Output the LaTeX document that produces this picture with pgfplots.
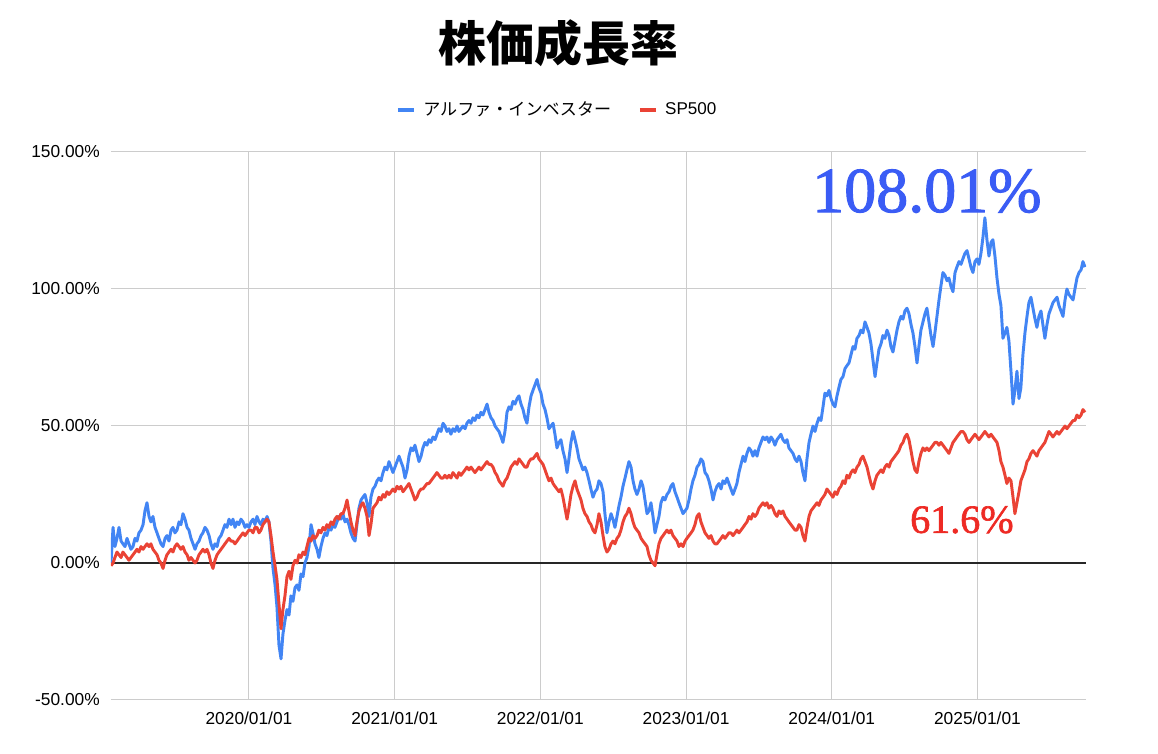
\documentclass[border=0pt]{standalone}
\usepackage{fontspec}
\setmainfont{Liberation Sans}
\newfontfamily\cjk{Noto Sans CJK JP}
\newfontfamily\anno[FakeBold=1.6]{Liberation Serif}
\usepackage{pgfplots}
\usepackage{pgfplotstable}
\pgfplotsset{compat=1.18}
\definecolor{cblue}{HTML}{4285F4}
\definecolor{cred}{HTML}{EA4335}
\definecolor{annblue}{HTML}{3A5CF5}
\definecolor{annred}{HTML}{EE2A24}
\definecolor{gridgray}{HTML}{CCCCCC}

\pgfplotstableread{
year alpha sp
2019.053 0 -1
2019.067 13 0
2019.080 6 2
2019.094 9 4
2019.108 13 3
2019.122 8 2
2019.135 7 4
2019.149 6 3
2019.163 9 2
2019.176 7 1
2019.190 5 2
2019.204 6 3
2019.218 9 4
2019.231 8 5
2019.245 11 4
2019.259 12 6
2019.273 14 5
2019.286 19 6
2019.300 22 7
2019.314 17 6
2019.327 15 7
2019.341 17 5
2019.355 13 4
2019.369 11 3
2019.382 9 1
2019.396 7 0
2019.410 6 -2
2019.424 9 1
2019.437 10 3
2019.451 8 4
2019.465 12 5
2019.478 13 4
2019.492 11 6
2019.506 12 7
2019.520 15 6
2019.533 14 5
2019.547 18 6
2019.561 16 4
2019.575 13 3
2019.588 12 1
2019.602 9 2
2019.616 7 1
2019.630 5 0
2019.643 7 1
2019.657 8 3
2019.671 10 4
2019.684 11 5
2019.698 13 4
2019.712 12 5
2019.726 10 3
2019.739 7 0
2019.753 5 -2
2019.767 7 1
2019.781 6 3
2019.794 9 4
2019.808 10 5
2019.822 12 6
2019.835 14 7
2019.849 13 8
2019.863 16 9
2019.877 14 8
2019.890 16 8
2019.904 13 7
2019.918 15 8
2019.931 14 9
2019.945 16 10
2019.959 15 11
2019.973 13 10
2019.986 14 11
2020.000 13 12
2020.014 15 12
2020.028 16 11
2020.041 14 13
2020.055 17 13
2020.069 15 11
2020.082 14 12
2020.096 16 14
2020.110 15 15
2020.124 17 16
2020.137 15 15
2020.151 8 10
2020.165 -2 4
2020.179 -8 -1
2020.192 -16 -6
2020.206 -30 -15
2020.220 -35 -24
2020.233 -26 -17
2020.247 -21 -12
2020.261 -17 -5
2020.275 -19 -3
2020.288 -12 -6
2020.302 -14 -1
2020.316 -9 1
2020.330 -8 0
2020.343 -10 3
2020.357 -4 2
2020.371 -5 4
2020.384 0 3
2020.398 2 6
2020.412 6 9
2020.426 14 8
2020.439 11 10
2020.453 7 9
2020.467 5 10
2020.480 2 12
2020.494 6 11
2020.508 9 13
2020.522 11 12
2020.535 10 14
2020.549 13 13
2020.563 12 15
2020.577 14 14
2020.590 13 16
2020.604 15 17
2020.618 17 16
2020.631 16 18
2020.645 18 18
2020.659 15 20
2020.673 16 23
2020.686 14 19
2020.700 11 15
2020.714 9 12
2020.728 8 10
2020.741 14 15
2020.755 20 19
2020.769 23 21
2020.782 24 22
2020.796 25 20
2020.810 22 17
2020.824 17 10
2020.837 24 14
2020.851 27 20
2020.865 28 21
2020.879 30 22
2020.892 31 24
2020.906 30 23
2020.920 33 25
2020.933 35 24
2020.947 34 26
2020.961 37 25
2020.975 35 26
2020.988 33 27
2021.002 35 26
2021.016 37 28
2021.030 39 27
2021.043 37 28
2021.057 35 26
2021.071 31 27
2021.085 34 28
2021.098 39 29
2021.112 42 27
2021.126 41 25
2021.139 43 23
2021.153 40 24
2021.167 37 26
2021.181 39 27
2021.194 42 27
2021.208 44 28
2021.222 43 29
2021.235 45 29
2021.249 44 30
2021.263 46 31
2021.277 45 32
2021.290 47 33
2021.304 49 32
2021.318 48 31
2021.332 51 31
2021.345 50 32
2021.359 48 31
2021.373 49 32
2021.386 47 31
2021.400 49 33
2021.414 48 32
2021.428 50 31
2021.441 48 33
2021.455 49 32
2021.469 50 33
2021.483 49 34
2021.496 51 35
2021.510 52 34
2021.524 51 35
2021.537 53 34
2021.551 52 33
2021.565 54 34
2021.579 53 35
2021.592 55 34
2021.606 54 35
2021.620 56 36
2021.634 58 37
2021.647 55 36
2021.661 53 36
2021.675 52 35
2021.689 50 33
2021.702 49 32
2021.716 48 30
2021.730 46 29
2021.743 44 28
2021.757 48 30
2021.771 55 31
2021.785 57 33
2021.798 56 35
2021.812 59 36
2021.826 58 37
2021.840 60 36
2021.853 61 38
2021.867 58 37
2021.881 56 36
2021.894 53 35
2021.908 51 35
2021.922 57 37
2021.936 61 38
2021.949 63 38
2021.963 65 39
2021.977 67 40
2021.990 64 38
2022.004 62 37
2022.018 58 36
2022.032 56 34
2022.045 53 32
2022.059 49 30
2022.073 50 31
2022.087 51 29
2022.100 47 28
2022.114 42 27
2022.128 44 26
2022.141 45 27
2022.155 41 24
2022.169 38 20
2022.183 33 16
2022.196 38 20
2022.210 44 25
2022.224 48 28
2022.238 45 30
2022.251 42 27
2022.265 38 25
2022.279 36 23
2022.292 34 20
2022.306 35 18
2022.320 33 17
2022.334 30 15
2022.347 27 14
2022.361 24 12
2022.375 26 11
2022.389 27 14
2022.402 30 18
2022.416 29 15
2022.430 26 10
2022.443 18 6
2022.457 11 4
2022.471 15 5
2022.485 18 7
2022.498 16 8
2022.512 13 7
2022.526 17 9
2022.540 21 10
2022.553 24 12
2022.567 28 15
2022.581 31 17
2022.594 34 18
2022.608 37 20
2022.622 35 18
2022.636 30 15
2022.649 27 13
2022.663 25 12
2022.677 27 11
2022.691 30 9
2022.704 28 8
2022.718 23 7
2022.732 18 6
2022.745 19 3
2022.759 22 1
2022.773 17 0
2022.787 11 -1
2022.800 14 3
2022.814 17 7
2022.828 22 9
2022.842 24 10
2022.855 23 11
2022.869 25 12
2022.883 26 11
2022.896 28 12
2022.910 29 10
2022.924 26 9
2022.938 24 8
2022.951 22 6
2022.965 20 7
2022.979 18 6
2022.993 19 8
2023.006 20 9
2023.020 23 10
2023.034 27 11
2023.047 30 12
2023.061 32 14
2023.075 35 17
2023.089 36 18
2023.102 38 15
2023.116 37 13
2023.130 33 11
2023.144 32 10
2023.157 30 9
2023.171 27 10
2023.185 23 8
2023.198 26 7
2023.212 28 7
2023.226 29 8
2023.240 27 9
2023.253 30 10
2023.267 29 9
2023.281 31 10
2023.294 29 11
2023.308 27 11
2023.322 25 10
2023.336 27 11
2023.349 29 12
2023.363 33 11
2023.377 36 12
2023.391 39 13
2023.404 37 14
2023.418 40 15
2023.432 42 17
2023.446 41 16
2023.459 39 18
2023.473 41 17
2023.487 39 18
2023.500 42 20
2023.514 44 21
2023.528 46 22
2023.542 45 21
2023.555 46 22
2023.569 44 20
2023.583 46 21
2023.596 45 20
2023.610 43 18
2023.624 45 17
2023.638 46 19
2023.651 47 18
2023.665 45 19
2023.679 44 17
2023.693 45 16
2023.706 42 15
2023.720 41 14
2023.734 40 13
2023.748 38 12
2023.761 37 12
2023.775 39 14
2023.789 37 13
2023.802 33 10
2023.816 30 8
2023.830 38 13
2023.844 44 17
2023.857 47 19
2023.871 50 20
2023.885 48 21
2023.899 51 22
2023.912 53 21
2023.926 52 23
2023.940 57 24
2023.953 62 25
2023.967 61 27
2023.981 63 26
2023.995 60 25
2024.008 58 24
2024.022 57 26
2024.036 61 25
2024.049 64 27
2024.063 67 28
2024.077 68 30
2024.091 71 29
2024.104 72 32
2024.118 73 31
2024.132 76 33
2024.146 79 34
2024.159 78 33
2024.173 82 35
2024.187 83 36
2024.200 85 38
2024.214 84 39
2024.228 88 37
2024.242 86 35
2024.255 84 32
2024.269 80 29
2024.283 74 27
2024.297 68 30
2024.310 73 32
2024.324 78 33
2024.338 80 34
2024.351 83 33
2024.365 82 35
2024.379 85 36
2024.393 83 35
2024.406 79 37
2024.420 77 38
2024.434 81 39
2024.448 85 40
2024.461 88 41
2024.475 90 43
2024.489 89 44
2024.502 92 46
2024.516 93 47
2024.530 91 45
2024.544 87 41
2024.557 84 37
2024.571 79 34
2024.585 73 33
2024.598 79 37
2024.612 85 40
2024.626 88 42
2024.640 91 41
2024.653 93 42
2024.667 88 41
2024.681 83 42
2024.695 79 43
2024.708 84 44
2024.722 90 44
2024.736 96 43
2024.749 101 44
2024.763 106 43
2024.777 105 42
2024.791 103 41
2024.804 104 40
2024.818 101 42
2024.832 99 44
2024.846 106 45
2024.859 108 46
2024.873 110 47
2024.887 109 48
2024.900 111 48
2024.914 113 47
2024.928 114 45
2024.942 111 44
2024.955 108 45
2024.969 106 46
2024.983 110 47
2024.997 111 46
2025.010 109 45
2025.024 113 46
2025.038 119 47
2025.051 126 48
2025.065 118 47
2025.079 112 46
2025.093 117 47
2025.106 118 46
2025.120 112 45
2025.134 104 44
2025.148 98 41
2025.161 94 37
2025.175 82 35
2025.189 84 32
2025.202 86 29
2025.216 81 31
2025.230 70 30
2025.244 58 24
2025.257 63 18
2025.271 70 22
2025.285 60 26
2025.298 64 30
2025.312 76 32
2025.326 84 34
2025.340 90 37
2025.353 95 38
2025.367 97 40
2025.381 93 41
2025.395 89 40
2025.408 86 39
2025.422 90 41
2025.436 92 42
2025.449 87 43
2025.463 82 44
2025.477 87 46
2025.491 91 48
2025.505 93 47
2025.518 95 46
2025.532 96 47
2025.546 97 48
2025.559 94 47
2025.573 92 48
2025.587 90 49
2025.601 96 50
2025.614 100 49
2025.628 98 50
2025.642 97 51
2025.656 96 52
2025.669 100 52
2025.683 104 54
2025.697 106 53
2025.711 107 54
2025.724 110 56
2025.738 108 55
}\growth

\begin{document}
\begin{tikzpicture}
\useasboundingbox (0,0) rectangle (868.5pt,565.5pt);
\fill[white] (0,0) rectangle (868.5pt,565.5pt);
\begin{axis}[
  at={(83.25pt,40.5pt)}, anchor=south west,
  scale only axis, width=731.25pt, height=411pt,
  xmin=2019.053, xmax=2025.745, ymin=-50, ymax=150,
  xtick={2020,2021,2022,2023,2024,2025},
  xticklabels={2020/01/01,2021/01/01,2022/01/01,2023/01/01,2024/01/01,2025/01/01},
  ytick={-50,0,50,100,150},
  yticklabel={\pgfmathprintnumber[fixed,fixed zerofill,precision=2,assume math mode=true]{\tick}\%},
  grid=major, major grid style={gridgray, line width=0.75pt},
  axis line style={draw=none}, major tick length=0pt,
  tick label style={font=\fontsize{13}{15}\selectfont, text=black},
  xticklabel style={anchor=north, inner sep=0pt, yshift=-9pt},
  yticklabel style={anchor=east, inner sep=0pt, xshift=-8.25pt},
  legend columns=2,
  legend style={at={(axis description cs:0.458,1)}, anchor=center, yshift=31.5pt,
    draw=none, fill=none, font=\fontsize{12.8}{14}\selectfont,
    /tikz/every even column/.append style={column sep=18pt}},
  legend image code/.code={\draw[#1, line width=3pt] (0pt,0pt) -- (12pt,0pt); \path[draw=none] (0pt,0pt) -- (17pt,0pt);},
]
\draw[black!85, line width=0.9pt] (axis cs:2019.053,0) -- (axis cs:2025.745,0);
\addplot[cblue, line width=2.2pt, line join=round] table[x=year,y=alpha]{\growth};
\addlegendentry{{\cjk アルファ・インベスター}}
\addplot[cred, line width=2.2pt, line join=round] table[x=year,y=sp]{\growth};
\addlegendentry{SP500}
\coordinate (a1) at (axis cs:2023.864,128.1);
\coordinate (a2) at (axis cs:2024.537,11);
\end{axis}
\node[anchor=base west, inner sep=0pt, text=annblue, font=\anno\fontsize{48}{50}\selectfont] at (a1) {108.01\%};
\node[anchor=base west, inner sep=0pt, text=annred, font=\anno\fontsize{30}{32}\selectfont] at (a2) {61.6\%};
\node[font=\cjk\bfseries\fontsize{36}{40}\selectfont] at (418.5pt,533.25pt) {株価成長率};
\end{tikzpicture}
\end{document}
